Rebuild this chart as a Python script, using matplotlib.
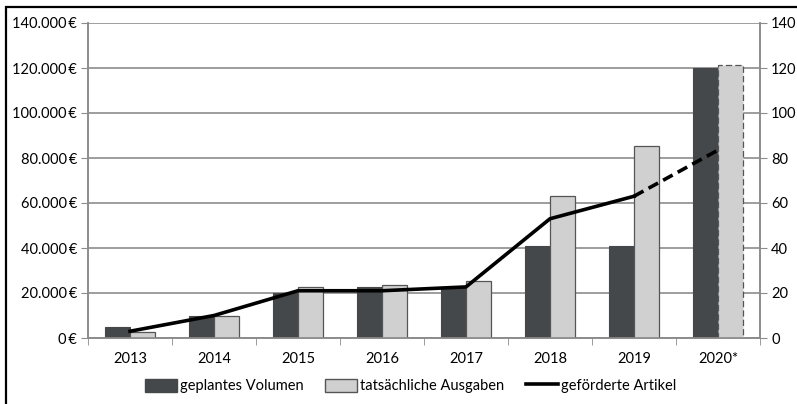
import numpy as np
import matplotlib.pyplot as plt
from matplotlib.patches import Rectangle
from matplotlib.lines import Line2D
from matplotlib.ticker import FuncFormatter

plt.rcParams['font.family'] = ['Lato', 'DejaVu Sans']

years = ['2013', '2014', '2015', '2016', '2017', '2018', '2019', '2020*']
geplant = [5000, 10000, 20000, 22500, 22500, 41000, 41000, 120000]
ausgaben = [2800, 10000, 22500, 23500, 25500, 63000, 85500, 121500]
artikel = [3, 10, 21, 21, 22.7, 53, 63, 83.5]

dark = '#45484a'
light = '#d0d0d0'
grid = '#8c8c8c'

fig = plt.figure(figsize=(7.97, 4.04), dpi=100)
ax = fig.add_axes([88 / 797, 1 - 338 / 404, 672 / 797, 315 / 404])
ax2 = ax.twinx()

x = np.arange(len(years))
w = 0.3
ax.bar(x - w / 2, geplant, w, color=dark, edgecolor=dark, linewidth=0.8, zorder=3)
bars = ax.bar(x + w / 2, ausgaben, w, color=light, edgecolor='#555555', linewidth=0.9, zorder=3)
# forecast year drawn with a dashed outline
bars[-1].set_linestyle((0, (5, 2.5)))

ax.set_xlim(-0.5, len(years) - 0.5)
ax.set_ylim(0, 140000)
ax.set_yticks(np.arange(0, 140001, 20000))
ax.yaxis.set_major_formatter(FuncFormatter(lambda v, p: f'{int(v):,}'.replace(',', '.') + '\u2009€'))
ax.set_xticks(x)
ax.set_xticklabels(years)
ax.set_xticks(np.arange(-0.5, len(years)), minor=True)
ax.tick_params(axis='x', which='major', length=0, pad=10, labelsize=10.5)
ax.tick_params(axis='x', which='minor', length=5, color=grid)
ax.tick_params(axis='y', length=5, color=grid, labelsize=10.5, pad=3)
ax.grid(axis='y', color=grid, linewidth=1.2, zorder=0)
ax.set_axisbelow(True)

# article counts on the secondary axis; last segment is the forecast
ax2.plot(x[:-1], artikel[:-1], color='black', linewidth=2.6, zorder=4)
ax2.plot(x[-2:], artikel[-2:], color='black', linewidth=2.6, linestyle=(0, (3, 1.6)), zorder=4)
ax2.set_ylim(0, 140)
ax2.set_yticks(np.arange(0, 141, 20))
ax2.tick_params(axis='y', length=5, color=grid, labelsize=10.5, pad=3)

for a in (ax, ax2):
    a.spines['top'].set_visible(False)
    for s in ('left', 'right', 'bottom'):
        a.spines[s].set_color(grid)
        a.spines[s].set_linewidth(1.2)

handles = [
    Rectangle((0, 0), 1, 1, facecolor=dark, edgecolor=dark),
    Rectangle((0, 0), 1, 1, facecolor=light, edgecolor='#555555'),
    Line2D([], [], color='black', linewidth=2.6),
]
fig.legend(handles, ['geplantes Volumen', 'tatsächliche Ausgaben', 'geförderte Artikel'],
           loc='center', bbox_to_anchor=(0.515, 1 - 386 / 404), ncol=3, frameon=False,
           fontsize=10.5, handlelength=2.2, handleheight=1.0, handletextpad=0.2,
           columnspacing=1.5)

# outer frame around the chart
fig.patches.append(Rectangle((6 / 797, -0.1), 1.2, 1 - 7 / 404 + 0.1,
                             transform=fig.transFigure, fill=False,
                             edgecolor='black', linewidth=1.6))

fig.savefig('out.png', dpi=100)
